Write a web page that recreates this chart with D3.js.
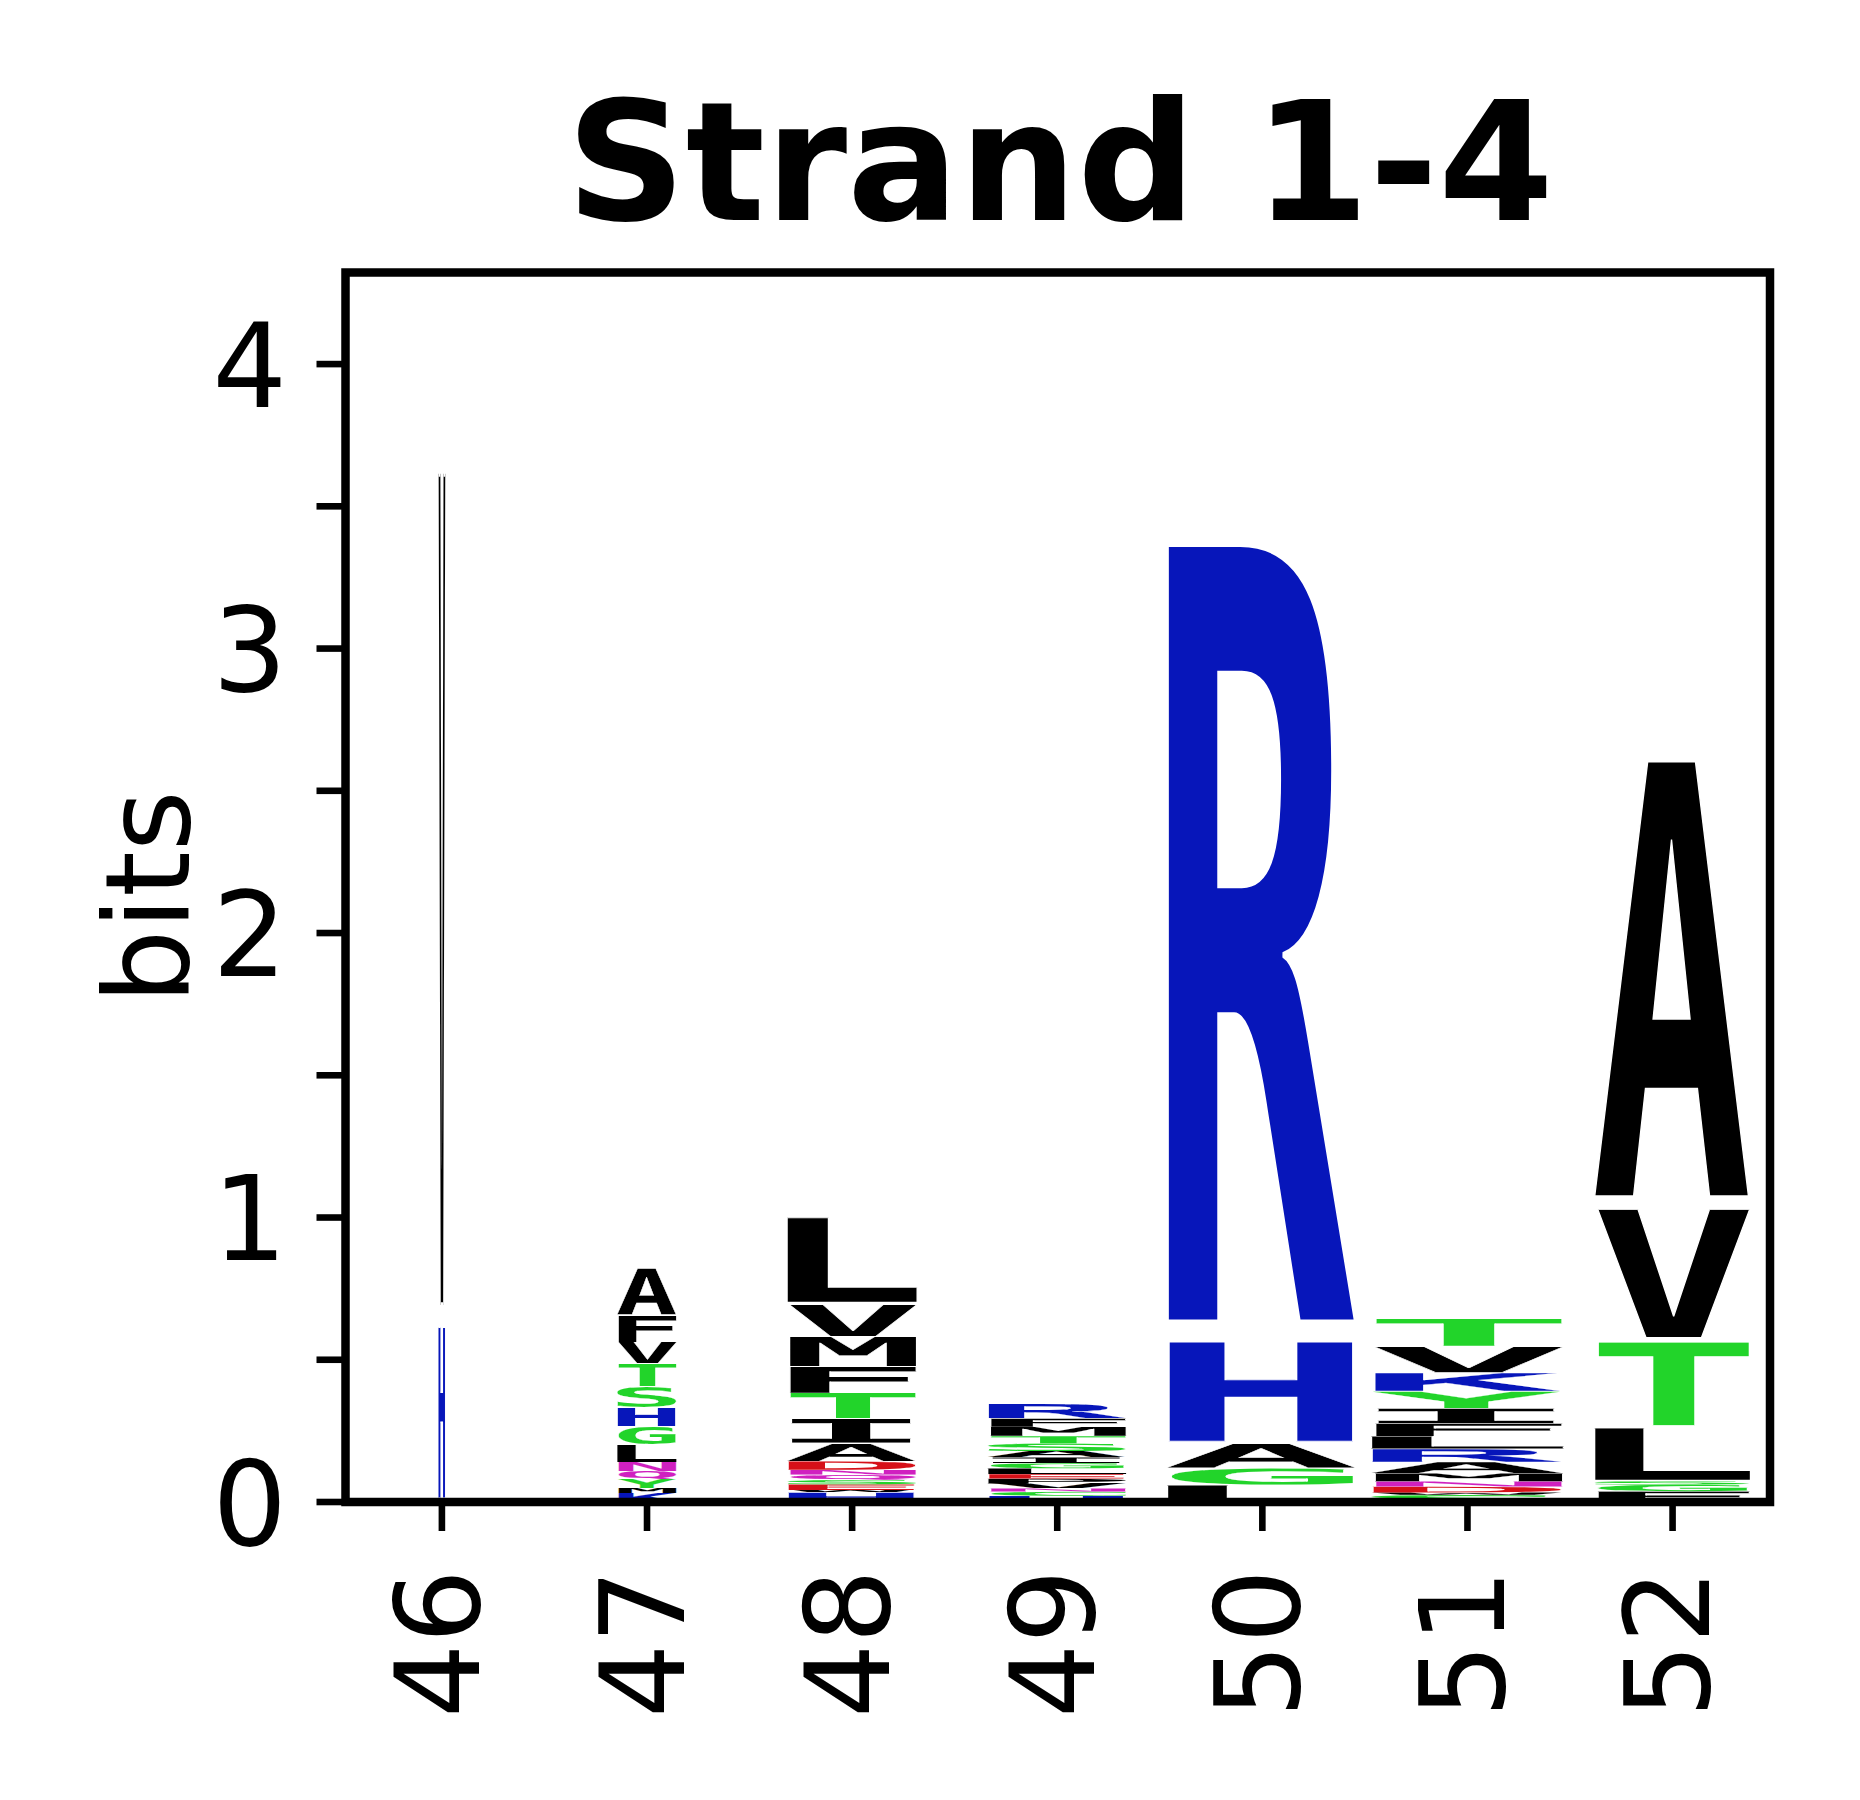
<!DOCTYPE html>
<html><head><meta charset="utf-8">
<script src="https://cdn.jsdelivr.net/npm/d3@7"></script>
<style>body{margin:0;background:#fff}svg{display:block}</style>
</head><body>
<svg id="chart" width="1860" height="1800"></svg>
<script>
// ---------------- data ----------------
const titleText = "Strand 1-4";
const yLabel = "bits";
const positions = [46, 47, 48, 49, 50, 51, 52];
const stackWidths = [0.033, 0.289, 0.629, 0.673, 0.92, 0.931, 0.755];
const yTicks = [0, 0.5, 1, 1.5, 2, 2.5, 3, 3.5, 4];
const yMax = Math.log2(20);

// letters listed from bottom to top, with heights in bits
const letters46 = ['H', 'V'];
const heights46 = [0.626, 3.054];
const letters47 = ['K','M','Y','Q','N','L','G','H','S','T','V','F','A'];
const heights47 = [0.033,0.0165,0.032,0.0265,0.032,0.061,0.0635,0.0665,0.0745,0.082,0.074,0.096,0.1675];
const letters48 = ['H','W','E','S','Q','N','D','A','I','T','F','M','V','L'];
const heights48 = [0.0335,0.0085,0.020,0.0155,0.0175,0.018,0.0305,0.0625,0.0875,0.0885,0.095,0.104,0.115,0.3095];
const letters49 = ['H','C','N','V','P','E','L','G','I','A','S','T','M','F','R'];
const heights49 = [0.022,0.0143,0.0117,0.0165,0.0175,0.016,0.020,0.019,0.020,0.0215,0.0275,0.026,0.032,0.029,0.0505];
const letters50 = ['L','G','A','H','R'];
const heights50 = [0.0595,0.060,0.0865,0.364,2.858];
const letters51 = ['S','W','D','N','M','A','R','L','F','I','Y','K','V','T'];
const heights51 = [0.025,0.0083,0.0207,0.0186,0.0284,0.0396,0.0464,0.044,0.045,0.053,0.060,0.0655,0.0925,0.0985];
const letters52 = ['F','G','S','L','T','V','A'];
const heights52 = [0.0374,0.0236,0.0125,0.1895,0.305,0.470,1.601];

const stackLetters = [letters46, letters47, letters48, letters49, letters50, letters51, letters52];
const stackHeights = [heights46, heights47, heights48, heights49, heights50, heights51, heights52];

const colorGreen = '#22d42a', colorBlue = '#0716ba', colorMagenta = '#d020c0', colorRed = '#d61018', colorBlack = '#000000';
const letterColors = {G:colorGreen,S:colorGreen,T:colorGreen,Y:colorGreen,C:colorGreen,
  N:colorMagenta,Q:colorMagenta,K:colorBlue,R:colorBlue,H:colorBlue,D:colorRed,E:colorRed};

// ---------------- layout ----------------
(function draw() {
const svg = d3.select('#chart');
const plotLeft = 345.5, plotRight = 1770, plotTop = 272.5, plotBottom = 1502;
const x = d3.scaleLinear().domain([45.53, 52.475]).range([plotLeft, plotRight]);
const y = d3.scaleLinear().domain([0, yMax]).range([plotBottom, plotTop]);
const unit = x(1) - x(0);
const vpad = 0.05;
const erode = 1;
const ascentFix = 1.1;
const glyphFont = 'DejaVu Sans Mono';

const canvas = document.createElement('canvas');
const ctx = canvas.getContext('2d');
function inkBox(ch, family) {
  ctx.font = `bold 2000px "${family}"`;
  const m = ctx.measureText(ch);
  const e = erode / 2;
  return {l: -m.actualBoundingBoxLeft / 10 + e, r: m.actualBoundingBoxRight / 10 - e,
          a: m.actualBoundingBoxAscent / 10 - e - ascentFix, d: m.actualBoundingBoxDescent / 10 - e};
}

const gLogo = svg.append('g');
positions.forEach((p, i) => {
  const w = stackWidths[i] * unit;
  const cx = x(p);
  let floor = 0;
  stackLetters[i].forEach((ch, j) => {
    const h = stackHeights[i][j];
    const lo = floor + vpad * h / 2, hi = floor + h - vpad * h / 2;
    floor += h;
    const gw = ch === 'I' ? w * 0.955 : w;
    const b = inkBox(ch, glyphFont);
    const yTop = y(hi), gh = y(lo) - y(hi);
    const sx = gw / (b.r - b.l), sy = gh / (b.a + b.d);
    const x0 = cx - gw / 2;
    gLogo.append('text')
      .attr('font-family', glyphFont).attr('font-weight', 'bold').attr('font-size', '200px')
      .attr('fill', letterColors[ch] || colorBlack)
      .attr('stroke', '#ffffff').attr('stroke-width', erode)
      .attr('transform', `translate(${x0 - b.l * sx},${yTop + b.a * sy}) scale(${sx},${sy})`)
      .text(ch);
  });
});

// spines
svg.append('rect').attr('x', plotLeft).attr('y', plotTop).attr('width', plotRight - plotLeft).attr('height', plotBottom - plotTop)
  .attr('fill', 'none').attr('stroke', '#000').attr('stroke-width', 8.5);

// y ticks
const gy = svg.append('g');
yTicks.forEach(t => {
  gy.append('line').attr('x1', plotLeft - 29).attr('x2', plotLeft).attr('y1', y(t)).attr('y2', y(t))
    .attr('stroke', '#000').attr('stroke-width', 6.6);
  if (Number.isInteger(t)) {
    gy.append('text').attr('x', 287).attr('y', y(t) + 42.6)
      .attr('text-anchor', 'end').attr('font-family', 'DejaVu Sans').attr('font-size', '117px')
      .text(t);
  }
});

// x ticks
const gx = svg.append('g');
positions.forEach(p => {
  gx.append('line').attr('x1', x(p)).attr('x2', x(p)).attr('y1', plotBottom).attr('y2', plotBottom + 29)
    .attr('stroke', '#000').attr('stroke-width', 6.6);
  gx.append('text').attr('transform', `translate(${x(p) + 36.7},1569) rotate(-90)`)
    .attr('text-anchor', 'end').attr('font-family', 'DejaVu Sans').attr('font-size', '117px')
    .text(p);
});

// y label
svg.append('text').attr('transform', 'translate(189,897) rotate(-90)')
  .attr('text-anchor', 'middle').attr('font-family', 'DejaVu Sans').attr('font-size', '117px')
  .text(yLabel);

// title
svg.append('text').attr('x', 1060).attr('y', 220).attr('text-anchor', 'middle')
  .attr('font-family', 'DejaVu Sans').attr('font-weight', 'bold').attr('font-size', '166px')
  .text(titleText);
})();
</script>
</body></html>
